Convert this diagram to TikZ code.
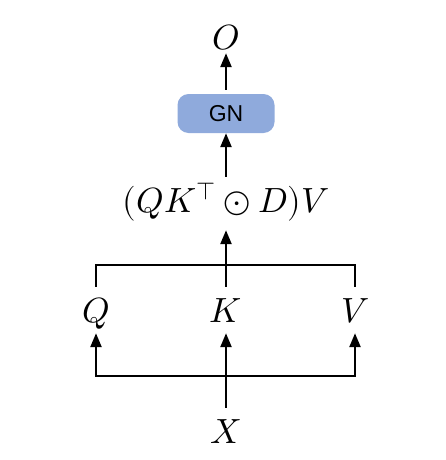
\documentclass[tikz,border=0pt]{standalone}
\usepackage{fontspec}
\usepackage{unicode-math}
\setmathfont{Latin Modern Math}
\newfontfamily\gnfont{Liberation Sans}
\usepackage{xcolor}
\usetikzlibrary{arrows.meta,positioning}
\definecolor{gnblue}{HTML}{8FAADC}

\begin{document}
\begin{tikzpicture}[x=1pt,y=-1pt,
  var/.style={inner sep=0pt, anchor=base, text height=35pt, text depth=11pt,
    font=\fontsize{35}{40}\selectfont},
  gnbox/.style={fill=gnblue, rounded corners=11pt, minimum width=97pt,
    minimum height=39pt, inner sep=0pt, font=\gnfont\fontsize{23}{26}\selectfont},
  arr/.style={line width=2.4pt, -{Triangle[length=14pt,width=11pt]}},
  wire/.style={line width=2.4pt}]
\useasboundingbox (0,0) rectangle (446,460);

% Output and norm
\node[var, text depth=3pt] (o) at (226,50) {$O$};
\node[gnbox] (gn) at (226,113.5) {GN};
\node[var, text depth=18pt] (attn) at (226,212) {$(QK^{\top}\odot D)V$};

% Projections
\node[var] (q) at (96,322) {$Q$};
\node[var] (k) at (226,322) {$K$};
\node[var] (v) at (355,322) {$V$};
\node[var] (x) at (226,443) {$X$};

\coordinate (top) at (226,265);
\coordinate (bot) at (226,376);

\draw[arr, shorten <=4pt] (gn.north) -- (o.south);
\draw[arr] (attn.north) -- (gn.south);
\draw[arr] (k.north) -- (attn.south);
\draw[wire] (q.north) |- (top) -| (v.north);
\draw[arr] (x.north) -- (k.south);
\draw[arr] (bot) -| (q.south);
\draw[arr] (bot) -| (v.south);
\end{tikzpicture}
\end{document}
